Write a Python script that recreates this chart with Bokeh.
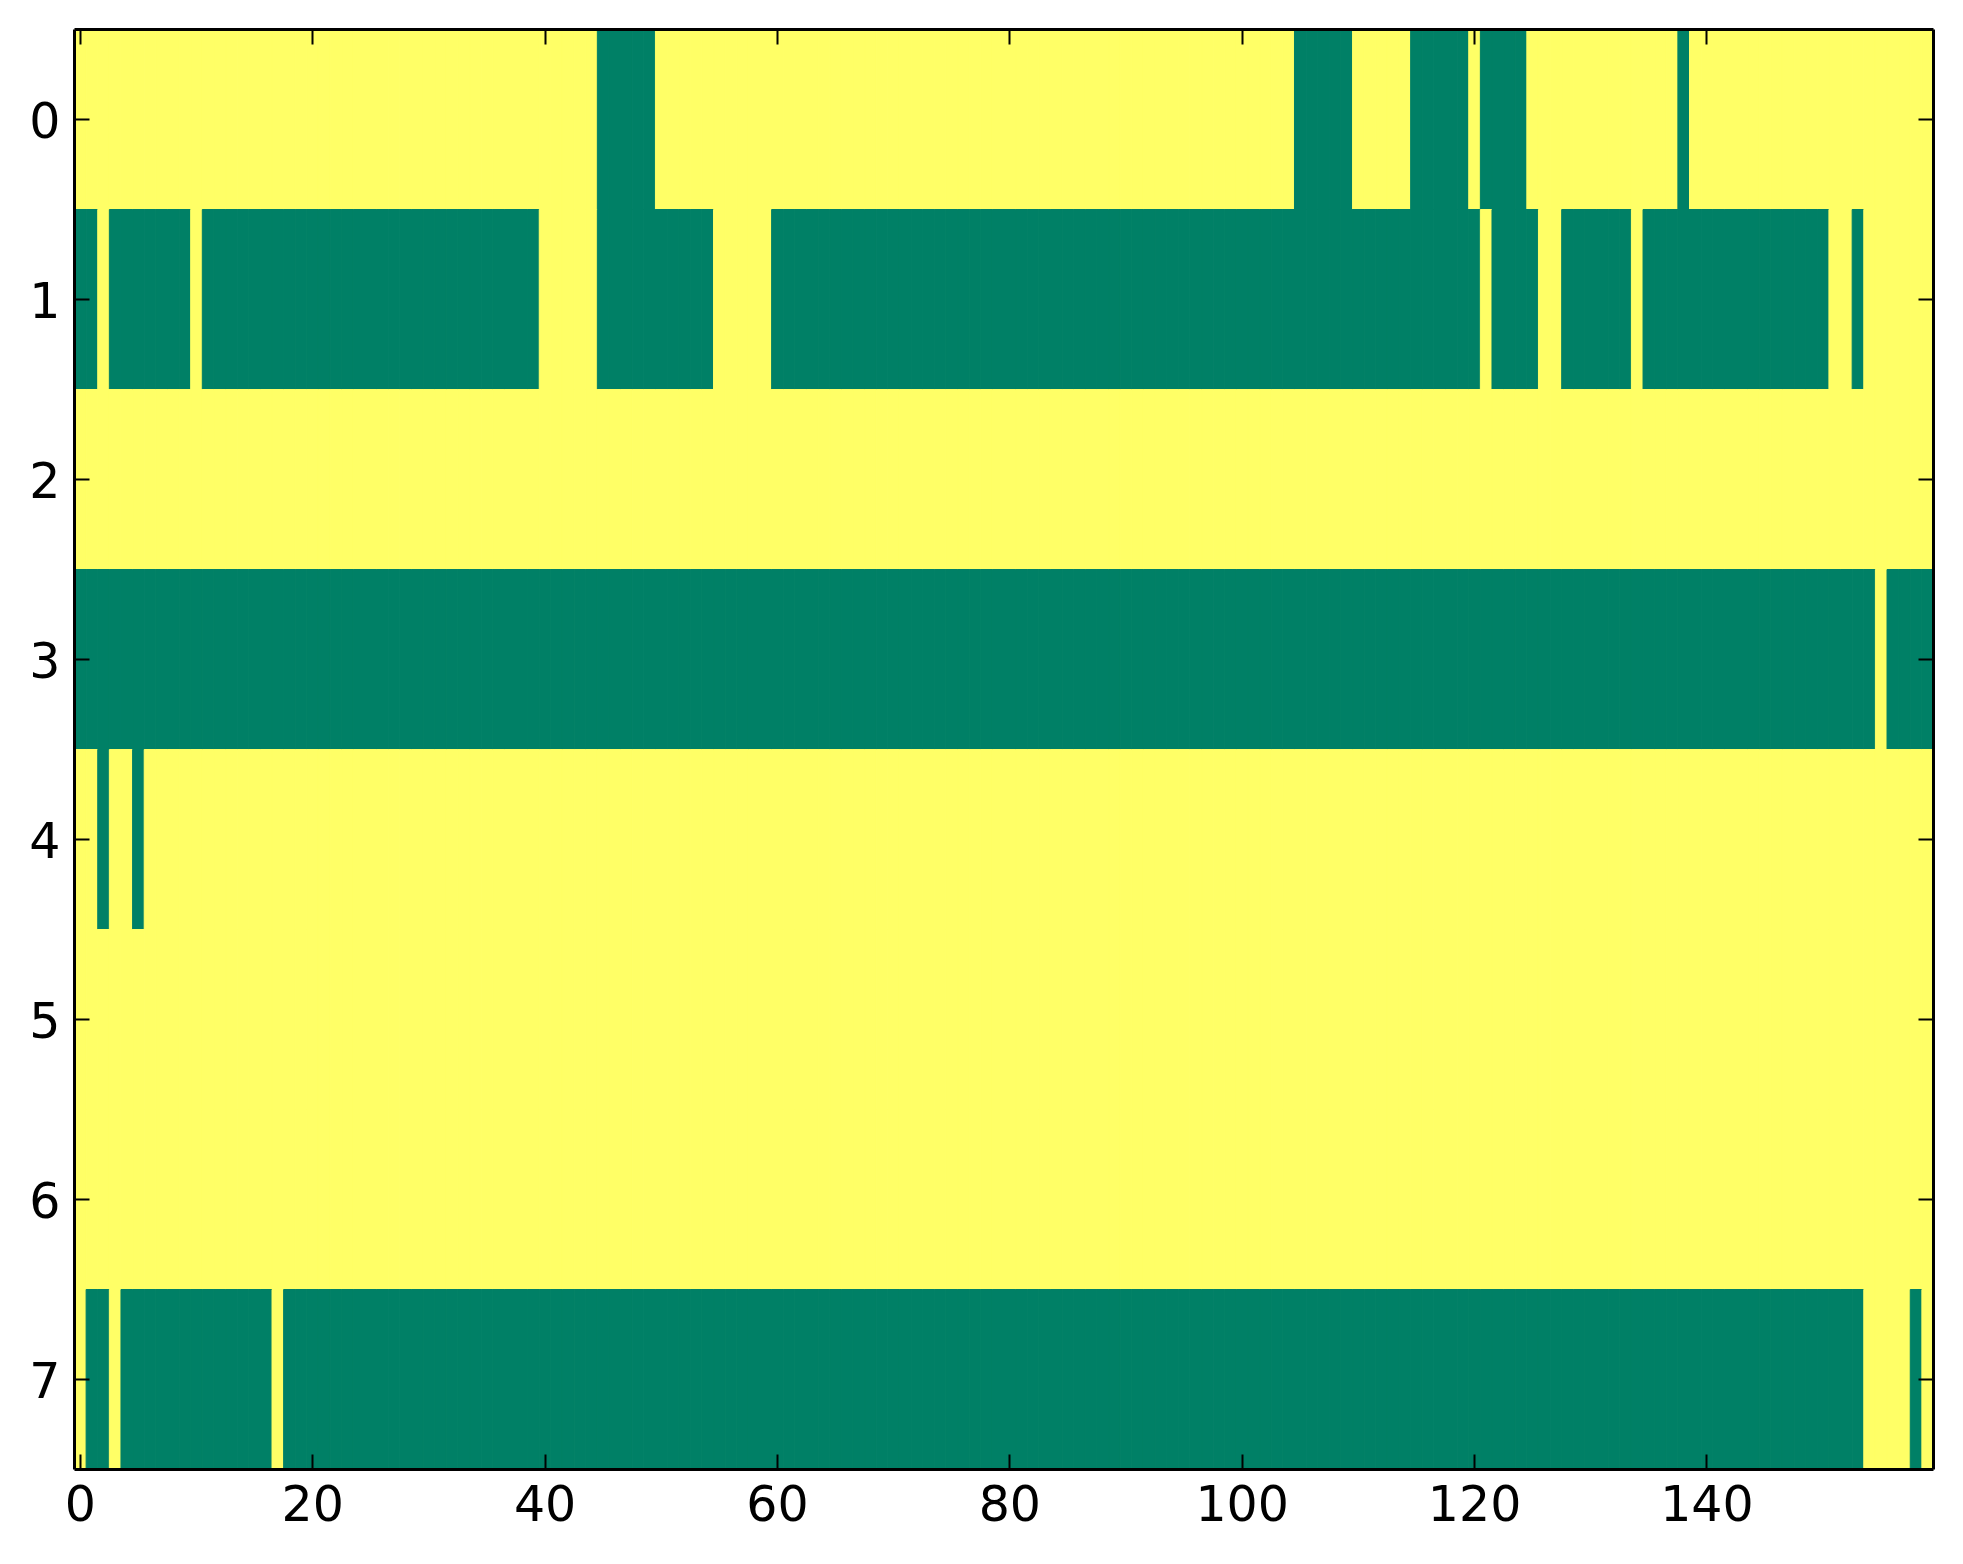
from bokeh.plotting import figure
from bokeh.models import (LinearAxis, FixedTicker, Range1d, LinearColorMapper,
                          ColumnDataSource, CustomJSTickFormatter)
from bokeh.transform import transform
from bokeh.embed import file_html
from bokeh.resources import INLINE

# 1 = yellow (high), 0 = green (low); each row written in chunks of 10 columns
row0 = "1111111111 1111111111 1111111111 1111111111 1111100000 1111111111 1111111111 1111111111 1111111111 1111111111 1111100000 1111100000 1000011111 1111111101 1111111111 1111111111"
row1 = "0010000000 1000000000 0000000000 0000000000 1111100000 0000011111 0000000000 0000000000 0000000000 0000000000 0000000000 0000000000 0100001100 0000100000 0000000000 0110111111"
row2 = "1111111111 1111111111 1111111111 1111111111 1111111111 1111111111 1111111111 1111111111 1111111111 1111111111 1111111111 1111111111 1111111111 1111111111 1111111111 1111111111"
row3 = "0000000000 0000000000 0000000000 0000000000 0000000000 0000000000 0000000000 0000000000 0000000000 0000000000 0000000000 0000000000 0000000000 0000000000 0000000000 0000010000"
row4 = "1101101111 1111111111 1111111111 1111111111 1111111111 1111111111 1111111111 1111111111 1111111111 1111111111 1111111111 1111111111 1111111111 1111111111 1111111111 1111111111"
row5 = "1111111111 1111111111 1111111111 1111111111 1111111111 1111111111 1111111111 1111111111 1111111111 1111111111 1111111111 1111111111 1111111111 1111111111 1111111111 1111111111"
row6 = "1111111111 1111111111 1111111111 1111111111 1111111111 1111111111 1111111111 1111111111 1111111111 1111111111 1111111111 1111111111 1111111111 1111111111 1111111111 1111111111"
row7 = "1001000000 0000000100 0000000000 0000000000 0000000000 0000000000 0000000000 0000000000 0000000000 0000000000 0000000000 0000000000 0000000000 0000000000 0000000000 0000111101"
rows = [row0, row1, row2, row3, row4, row5, row6, row7]

x_ticks = [0, 20, 40, 60, 80, 100, 120, 140]
y_ticks = [0, 1, 2, 3, 4, 5, 6, 7]

GREEN = "#008066"
YELLOW = "#ffff66"

xs, ys, vs = [], [], []
for r, s in enumerate(rows):
    digits = s.replace(" ", "")
    for c, ch in enumerate(digits):
        xs.append(c)
        ys.append(r)
        vs.append(int(ch))
ncols = len(rows[0].replace(" ", ""))
src = ColumnDataSource(dict(x=xs, y=ys, v=vs))

p = figure(frame_width=1859, frame_height=1440,
           x_range=Range1d(-0.5, ncols - 0.5), y_range=Range1d(len(rows) - 0.5, -0.5),
           output_backend="svg", toolbar_location=None,
           min_border_left=74, min_border_top=29, min_border_right=22, min_border_bottom=80)
p.grid.visible = False
p.outline_line_color = None
p.background_fill_color = "white"

mapper = LinearColorMapper(palette=[GREEN, YELLOW], low=0, high=1)
p.rect(x="x", y="y", width=1, height=1, source=src,
       fill_color=transform("v", mapper), line_color=transform("v", mapper), line_width=1)

bottom = p.xaxis[0]
left = p.yaxis[0]
bottom.ticker = FixedTicker(ticks=x_ticks)
left.ticker = FixedTicker(ticks=y_ticks)
blank = CustomJSTickFormatter(code="return ''")
top = LinearAxis(ticker=FixedTicker(ticks=x_ticks), formatter=blank)
right = LinearAxis(ticker=FixedTicker(ticks=y_ticks), formatter=blank)
p.add_layout(top, "above")
p.add_layout(right, "right")

for ax in [bottom, left, top, right]:
    ax.axis_line_color = "black"
    ax.axis_line_width = 3
    ax.major_tick_in = 15
    ax.major_tick_out = 0
    ax.major_tick_line_width = 2
    ax.major_tick_line_color = "black"
    ax.minor_tick_line_color = None
    ax.major_label_text_font = "DejaVu Sans"
    ax.major_label_text_color = "black"
    ax.major_label_text_font_size = "49px"

bottom.major_label_standoff = 15
left.major_label_standoff = 14
top.major_label_standoff = 0
right.major_label_standoff = 0

open("out.html", "w").write(file_html(p, INLINE))
